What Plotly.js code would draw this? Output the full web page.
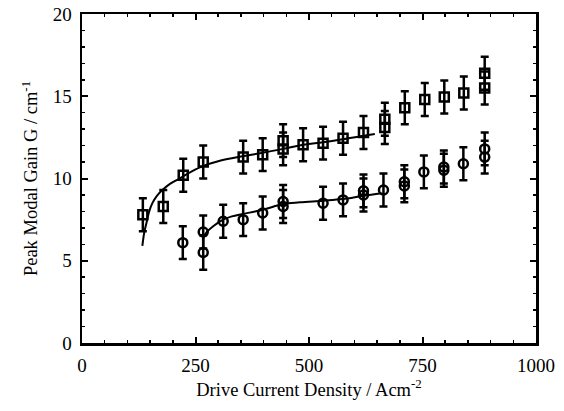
<!DOCTYPE html>
<html>
<head>
<meta charset="utf-8">
<script src="https://cdn.plot.ly/plotly-3.0.1.min.js"></script>
<style>html,body{margin:0;padding:0;background:#fff}#chart{width:564px;height:411px}</style>
</head>
<body>
<div id="chart"></div>
<script>
// Squares (upper series)
const sqX = [134, 179, 223, 267, 355, 398, 443, 443, 487, 531, 575, 620, 667, 667, 711, 755, 798, 841, 887, 887];
const sqY = [7.8, 8.3, 10.2, 11.0, 11.3, 11.45, 12.3, 11.8, 12.05, 12.15, 12.45, 12.8, 13.6, 13.1, 14.3, 14.8, 14.95, 15.2, 16.4, 15.5];
const sqErr = [1.0, 1.0, 1.0, 1.0, 1.0, 1.0, 1.0, 1.0, 1.0, 1.0, 1.0, 1.0, 1.0, 1.0, 1.0, 1.0, 1.0, 1.0, 1.0, 1.0];
// Circles (lower series)
const ciX = [222, 267, 267, 311, 355, 398, 443, 443, 531, 575, 620, 620, 664, 710, 710, 753, 797, 797, 840, 887, 887];
const ciY = [6.1, 6.75, 5.5, 7.4, 7.5, 7.9, 8.6, 8.3, 8.5, 8.7, 9.25, 9.0, 9.3, 9.8, 9.55, 10.4, 10.7, 10.5, 10.9, 11.8, 11.3];
const ciErr = [1.0, 1.0, 1.05, 1.0, 1.0, 1.0, 1.0, 1.0, 1.0, 1.0, 1.0, 1.0, 1.0, 1.0, 1.0, 1.0, 1.0, 1.0, 1.0, 1.0, 1.0];
// Fitted curves
const fitUX = [133, 137, 142, 148, 155, 165, 177, 190, 205, 221, 240, 266, 300, 354, 396, 443, 487, 531, 574, 620, 645];
const fitUY = [5.9, 6.7, 7.3, 8.0, 8.5, 8.95, 9.3, 9.6, 9.85, 10.1, 10.4, 10.75, 11.05, 11.35, 11.55, 11.8, 12.05, 12.2, 12.38, 12.6, 12.7];
const fitLX = [267, 275, 289, 311, 330, 355, 398, 443, 480, 531, 574, 620, 660];
const fitLY = [6.4, 6.75, 7.1, 7.5, 7.7, 7.85, 8.1, 8.45, 8.55, 8.65, 8.75, 8.95, 9.1];
const xTicks = [0, 250, 500, 750, 1000];
const yTicks = [0, 5, 10, 15, 20];

const tickFont = {family: 'Liberation Serif, Times New Roman, serif', size: 19, color: '#000'};
const titleFont = {family: 'Liberation Serif, Times New Roman, serif', size: 18.5, color: '#000'};
const errStyle = {type: 'data', visible: true, thickness: 2.5, width: 4, color: '#000'};

const traces = [
  {x: fitUX, y: fitUY, mode: 'lines', line: {color: '#000', width: 2, shape: 'spline'}, hoverinfo: 'skip'},
  {x: fitLX, y: fitLY, mode: 'lines', line: {color: '#000', width: 2, shape: 'spline'}, hoverinfo: 'skip'},
  {x: sqX, y: sqY, mode: 'markers', error_y: Object.assign({array: sqErr}, errStyle),
   marker: {symbol: 'square-open', size: 9, color: '#000', line: {width: 2.5, color: '#000'}}},
  {x: ciX, y: ciY, mode: 'markers', error_y: Object.assign({array: ciErr}, errStyle),
   marker: {symbol: 'circle-open', size: 9, color: '#000', line: {width: 2.5, color: '#000'}}}
];

const axisCommon = {
  showgrid: false, zeroline: false, showline: true, linecolor: '#000', linewidth: 2.5,
  mirror: 'allticks', ticks: 'inside', ticklen: 6, tickwidth: 2, tickcolor: '#000',
  tickfont: tickFont
};

const layout = {
  width: 564, height: 411,
  margin: {l: 82, r: 28, t: 14, b: 68},
  paper_bgcolor: '#fff', plot_bgcolor: '#fff',
  showlegend: false,
  font: tickFont,
  xaxis: Object.assign({}, axisCommon, {
    range: [0, 1000], tickmode: 'array', tickvals: xTicks, ticktext: xTicks.map(String),
    ticklabelstandoff: 4,
    minor: {dtick: 50, tick0: 0, ticks: 'inside', ticklen: 3, tickwidth: 1.5, tickcolor: '#000'},
    title: {text: 'Drive Current Density / Acm<sup>-2</sup>', font: titleFont, standoff: 6}
  }),
  yaxis: Object.assign({}, axisCommon, {
    range: [0, 20], tickmode: 'array', tickvals: yTicks, ticktext: yTicks.map(String),
    ticklabelstandoff: 4,
    minor: {dtick: 1, tick0: 0, ticks: 'inside', ticklen: 3, tickwidth: 1.5, tickcolor: '#000'},
    title: {text: 'Peak Modal Gain G / cm<sup>-1</sup>', font: titleFont, standoff: 10}
  })
};

Plotly.newPlot('chart', traces, layout, {staticPlot: true, displayModeBar: false});
</script>
</body>
</html>
